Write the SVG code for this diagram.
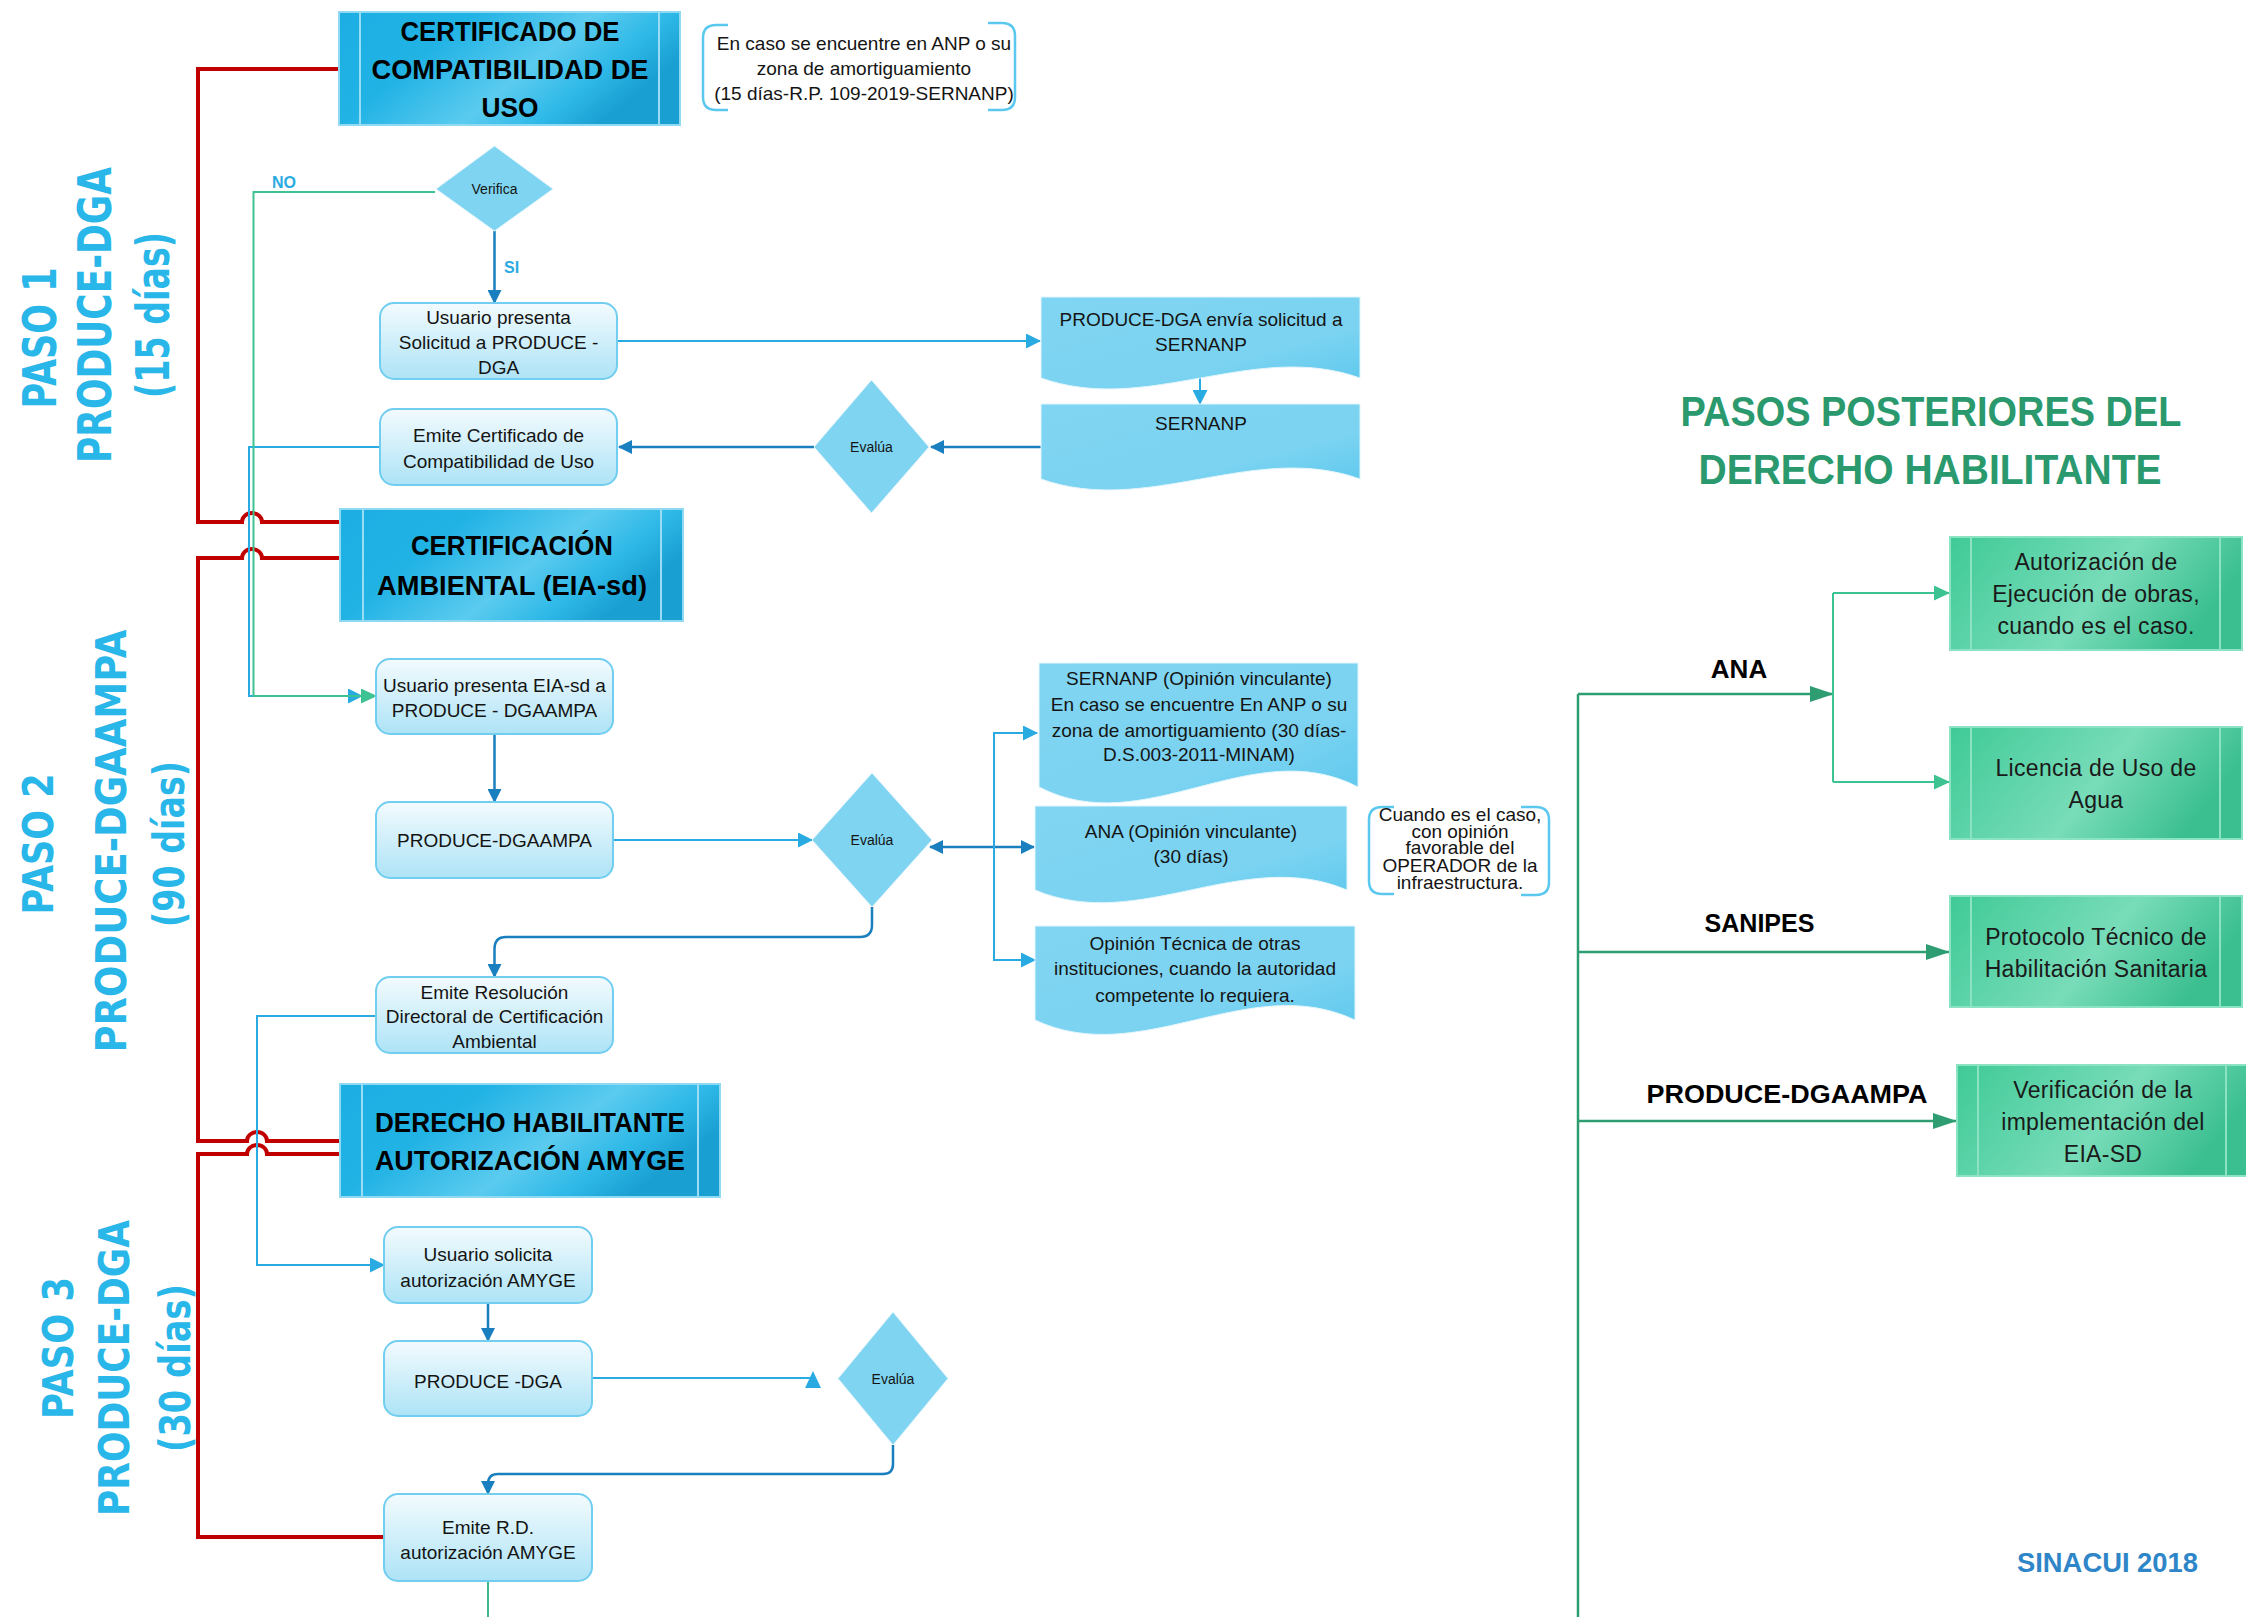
<svg xmlns="http://www.w3.org/2000/svg" width="2246" height="1617" viewBox="0 0 2246 1617">
<style>
.pbox{fill:url(#gProc);stroke:#72cef0;stroke-width:2}
.hbox{fill:url(#gHead);stroke:#8fd9f3;stroke-width:2}
.hline{stroke:#9adcf4;stroke-width:2}
.doc{fill:url(#gDoc);stroke:#e2f5fc;stroke-width:1}
.dia{fill:#7fd4f1;stroke:#e2f5fc;stroke-width:1}
.gbox{fill:url(#gGreen);stroke:#8be3c3;stroke-width:2}
.gline{stroke:#8be3c3;stroke-width:2}
.t{font-family:'Liberation Sans',Arial,sans-serif;font-size:19px;fill:#141414;text-anchor:middle}
.ts{font-family:'Liberation Sans',Arial,sans-serif;font-size:14px;fill:#141414;text-anchor:middle}
.tg{font-family:'Liberation Sans',Arial,sans-serif;font-size:23px;fill:#1a1a1a;text-anchor:middle;letter-spacing:0.3px}
.hb{font-family:'Liberation Sans',Arial,sans-serif;font-weight:bold;font-size:27px;fill:#000;text-anchor:middle}
.lbl{font-family:'Liberation Sans',Arial,sans-serif;font-weight:bold;font-size:26px;fill:#000;text-anchor:middle}
.paso{font-family:'DejaVu Sans','Liberation Sans',sans-serif;font-weight:bold;fill:#29b6e8;text-anchor:middle}
.lb{stroke:#29abe2;stroke-width:2;fill:none}
.db{stroke:#1a7fbf;stroke-width:2.5;fill:none}
.gr{stroke:#3cc391;stroke-width:2;fill:none}
.red{stroke:#c00000;stroke-width:4;fill:none;stroke-linejoin:miter}
.tree{stroke:#2e9e72;stroke-width:2.5;fill:none}
.br{stroke:#5bc8ef;stroke-width:2.5;fill:none}
</style>
<defs>
<linearGradient id="gProc" x1="0" y1="0" x2="0" y2="1">
<stop offset="0" stop-color="#f3fbfe"/><stop offset="1" stop-color="#ade3f6"/>
</linearGradient>
<linearGradient id="gHead" x1="0" y1="0" x2="1" y2="0.4">
<stop offset="0" stop-color="#1caee3"/><stop offset="0.35" stop-color="#22b3e5"/><stop offset="0.65" stop-color="#5bcbef"/><stop offset="0.85" stop-color="#2db8e7"/><stop offset="1" stop-color="#1a9fd2"/>
</linearGradient>
<linearGradient id="gDoc" x1="0" y1="0" x2="1" y2="1">
<stop offset="0" stop-color="#80d5f2"/><stop offset="0.65" stop-color="#7bd3f1"/><stop offset="1" stop-color="#5dc8ee"/>
</linearGradient>
<linearGradient id="gGreen" x1="0" y1="0" x2="1" y2="0.3">
<stop offset="0" stop-color="#3fca97"/><stop offset="0.6" stop-color="#78dcb9"/><stop offset="1" stop-color="#3bbf90"/>
</linearGradient>
<marker id="mLB" markerUnits="userSpaceOnUse" markerWidth="15" markerHeight="15" refX="14" refY="7.5" orient="auto-start-reverse"><path d="M0,0 L15,7.5 L0,15 Z" fill="#29abe2"/></marker>
<marker id="mDB" markerUnits="userSpaceOnUse" markerWidth="14" markerHeight="14" refX="13" refY="7" orient="auto-start-reverse"><path d="M0,0 L14,7 L0,14 Z" fill="#1a7fbf"/></marker>
<marker id="mG" markerUnits="userSpaceOnUse" markerWidth="16" markerHeight="15" refX="15" refY="7.5" orient="auto"><path d="M0,0 L16,7.5 L0,15 Z" fill="#3cc391"/></marker>
<marker id="mT" markerUnits="userSpaceOnUse" markerWidth="24" markerHeight="16" refX="23" refY="8" orient="auto"><path d="M0,0 L24,8 L0,16 Z" fill="#2e9e72"/></marker>
</defs>
<rect x="0" y="0" width="2246" height="1617" fill="#ffffff"/>

<g id="connectors">
<path class="red" d="M339,69 H198 V522 H242 A10 9 0 0 1 262 522 H340"/>
<path class="red" d="M340,558 H262 A10 9 0 0 0 242 558 H198 V1141 H247 A10 9 0 0 1 267 1141 H340"/>
<path class="red" d="M340,1154 H267 A10 9 0 0 0 247 1154 H198 V1537 H384"/>
<path class="lb" d="M380,447 H249 V696 H362" marker-end="url(#mLB)"/>
<path class="gr" d="M435,192 H253.5 V696 H376" marker-end="url(#mG)"/>
<path class="db" d="M494.5,231 V303" marker-end="url(#mDB)"/>
<path class="lb" d="M617,341 H1040" marker-end="url(#mLB)"/>
<path class="lb" d="M1200,377 V404" marker-end="url(#mLB)"/>
<path class="db" d="M1041,447 H931" marker-end="url(#mDB)"/>
<path class="db" d="M814,447 H619" marker-end="url(#mDB)"/>
<path class="db" d="M494.5,734 V802" marker-end="url(#mDB)"/>
<path class="lb" d="M613,840 H812" marker-end="url(#mLB)"/>
<path class="db" d="M930,847 H1034" marker-start="url(#mDB)" marker-end="url(#mDB)"/>
<path class="lb" d="M994,847 V733 H1037" marker-end="url(#mLB)"/>
<path class="lb" d="M994,847 V960 H1035" marker-end="url(#mLB)"/>
<path class="db" d="M872,907 V925 Q872,937 860,937 H506 Q494.5,937 494.5,949 V977" marker-end="url(#mDB)"/>
<path class="lb" d="M376,1016 H257 V1265 H384" marker-end="url(#mLB)"/>
<path class="db" d="M488,1303 V1341" marker-end="url(#mDB)"/>
<path class="lb" d="M592,1378 H813"/>
<path d="M813,1371 L805,1388 L821,1388 Z" fill="#29abe2"/>
<path class="db" d="M893,1445 V1464 Q893,1474 883,1474 H498 Q488,1474 488,1484 V1494" marker-end="url(#mDB)"/>
<path class="gr" d="M488,1581 V1617" style="stroke:#3cb88a"/>
<path class="tree" d="M1578,694 V1617"/>
<path class="tree" d="M1578,694 H1833" marker-end="url(#mT)"/>
<path class="gr" d="M1833,593 V782"/>
<path class="gr" d="M1833,593 H1949" marker-end="url(#mG)"/>
<path class="gr" d="M1833,782 H1949" marker-end="url(#mG)"/>
<path class="tree" d="M1578,952 H1949" marker-end="url(#mT)"/>
<path class="tree" d="M1578,1121 H1956" marker-end="url(#mT)"/>
</g>

<g id="labels-connectors">
<text x="284" y="188" font-family="'Liberation Sans',Arial,sans-serif" font-weight="bold" font-size="16" fill="#29abe2" text-anchor="middle">NO</text>
<text x="504" y="273" font-family="'Liberation Sans',Arial,sans-serif" font-weight="bold" font-size="16" fill="#29abe2">SI</text>
<text class="lbl" x="1739" y="678" font-size="27">ANA</text>
<text class="lbl" x="1759.5" y="932" textLength="110" lengthAdjust="spacingAndGlyphs">SANIPES</text>
<text class="lbl" x="1787" y="1103" textLength="281" lengthAdjust="spacingAndGlyphs">PRODUCE-DGAAMPA</text>
</g>

<g id="paso1">
<text class="paso" font-size="46" transform="translate(56,338) rotate(-90)" textLength="141" lengthAdjust="spacingAndGlyphs">PASO 1</text>
<text class="paso" font-size="46" transform="translate(111,315) rotate(-90)" textLength="296" lengthAdjust="spacingAndGlyphs">PRODUCE-DGA</text>
<text class="paso" font-size="46" transform="translate(169,315) rotate(-90)" textLength="166" lengthAdjust="spacingAndGlyphs">(15 días)</text>
</g>
<g id="paso2">
<text class="paso" font-size="42" transform="translate(53,844) rotate(-90)" textLength="141" lengthAdjust="spacingAndGlyphs">PASO 2</text>
<text class="paso" font-size="42" transform="translate(126,841) rotate(-90)" textLength="423" lengthAdjust="spacingAndGlyphs">PRODUCE-DGAAMPA</text>
<text class="paso" font-size="42" transform="translate(184,844) rotate(-90)" textLength="166" lengthAdjust="spacingAndGlyphs">(90 días)</text>
</g>
<g id="paso3">
<text class="paso" font-size="42" transform="translate(73,1348) rotate(-90)" textLength="142" lengthAdjust="spacingAndGlyphs">PASO 3</text>
<text class="paso" font-size="42" transform="translate(128.5,1368) rotate(-90)" textLength="296" lengthAdjust="spacingAndGlyphs">PRODUCE-DGA</text>
<text class="paso" font-size="42" transform="translate(190,1368) rotate(-90)" textLength="168" lengthAdjust="spacingAndGlyphs">(30 días)</text>
</g>

<g id="certificado-compatibilidad">
<rect class="hbox" x="339" y="12" width="341" height="113"/>
<line class="hline" x1="360" y1="12" x2="360" y2="125"/>
<line class="hline" x1="659" y1="12" x2="659" y2="125"/>
<text class="hb" x="510" y="41" textLength="219" lengthAdjust="spacingAndGlyphs">CERTIFICADO DE</text>
<text class="hb" x="510" y="79" textLength="277" lengthAdjust="spacingAndGlyphs">COMPATIBILIDAD DE</text>
<text class="hb" x="510" y="117" textLength="57" lengthAdjust="spacingAndGlyphs">USO</text>
</g>

<g id="nota-anp">
<path class="br" d="M728,25 H716 Q703,25 703,38 V97 Q703,110 716,110 H728"/>
<path class="br" d="M988,23 H1002 Q1015,23 1015,36 V97 Q1015,110 1002,110 H988"/>
<text class="t" x="864" y="50" font-size="18.5">En caso se encuentre en ANP o su</text>
<text class="t" x="864" y="75" font-size="18.5">zona de amortiguamiento</text>
<text class="t" x="864" y="100" font-size="18.5">(15 días-R.P. 109-2019-SERNANP)</text>
</g>

<g id="verifica">
<polygon class="dia" points="494.5,146 553,189 494.5,231 436,189"/>
<text class="ts" x="494.5" y="194">Verifica</text>
</g>

<g id="usuario-presenta-solicitud">
<rect class="pbox" x="380" y="303" width="237" height="76" rx="14"/>
<text class="t" x="498.5" y="324">Usuario presenta</text>
<text class="t" x="498.5" y="349">Solicitud a PRODUCE -</text>
<text class="t" x="498.5" y="374">DGA</text>
</g>

<g id="envia-sernanp">
<path class="doc" d="M1041,297 H1360 V378 C1253.7,340 1147.3,416 1041,378 Z"/>
<text class="t" x="1201" y="326">PRODUCE-DGA envía solicitud a</text>
<text class="t" x="1201" y="351">SERNANP</text>
</g>

<g id="sernanp">
<path class="doc" d="M1041,404 H1360 V479 C1253.7,441 1147.3,517 1041,479 Z"/>
<text class="t" x="1201" y="430">SERNANP</text>
</g>

<g id="evalua-1">
<polygon class="dia" points="871.5,380 929,447 871.5,513 814,447"/>
<text class="ts" x="871.5" y="452">Evalúa</text>
</g>

<g id="emite-certificado">
<rect class="pbox" x="380" y="409" width="237" height="76" rx="14"/>
<text class="t" x="498.5" y="442">Emite Certificado de</text>
<text class="t" x="498.5" y="468">Compatibilidad de Uso</text>
</g>

<g id="certificacion-ambiental">
<rect class="hbox" x="340" y="509" width="343" height="112"/>
<line class="hline" x1="363" y1="509" x2="363" y2="621"/>
<line class="hline" x1="661" y1="509" x2="661" y2="621"/>
<text class="hb" x="512" y="555" textLength="202" lengthAdjust="spacingAndGlyphs">CERTIFICACIÓN</text>
<text class="hb" x="512" y="595" textLength="270" lengthAdjust="spacingAndGlyphs">AMBIENTAL (EIA-sd)</text>
</g>

<g id="usuario-presenta-eia">
<rect class="pbox" x="376" y="659" width="237" height="75" rx="14"/>
<text class="t" x="494.5" y="692">Usuario presenta EIA-sd a</text>
<text class="t" x="494.5" y="717">PRODUCE - DGAAMPA</text>
</g>

<g id="produce-dgaampa">
<rect class="pbox" x="376" y="802" width="237" height="76" rx="14"/>
<text class="t" x="494.5" y="847">PRODUCE-DGAAMPA</text>
</g>

<g id="evalua-2">
<polygon class="dia" points="872,773 932,840 872,907 812,840"/>
<text class="ts" x="872" y="845">Evalúa</text>
</g>

<g id="sernanp-opinion">
<path class="doc" d="M1039,663 H1358 V787 C1251.7,732 1145.3,842 1039,787 Z"/>
<text class="t" x="1199" y="685">SERNANP (Opinión vinculante)</text>
<text class="t" x="1199" y="711">En caso se encuentre En ANP o su</text>
<text class="t" x="1199" y="737">zona de amortiguamiento (30 días-</text>
<text class="t" x="1199" y="761">D.S.003-2011-MINAM)</text>
</g>

<g id="ana-opinion">
<path class="doc" d="M1035,806 H1347 V890 C1243,846 1139,934 1035,890 Z"/>
<text class="t" x="1191" y="838">ANA (Opinión vinculante)</text>
<text class="t" x="1191" y="863">(30 días)</text>
</g>

<g id="opinion-tecnica">
<path class="doc" d="M1035,926 H1355 V1020 C1248.3,970 1141.7,1070 1035,1020 Z"/>
<text class="t" x="1195" y="950">Opinión Técnica de otras</text>
<text class="t" x="1195" y="975">instituciones, cuando la autoridad</text>
<text class="t" x="1195" y="1002">competente lo requiera.</text>
</g>

<g id="nota-operador">
<path class="br" d="M1394,807 H1382 Q1369,807 1369,820 V881 Q1369,894 1382,894 H1394"/>
<path class="br" d="M1521,807 H1536 Q1549,807 1549,820 V882 Q1549,895 1536,895 H1521"/>
<text class="t" x="1460" y="821" font-size="17">Cuando es el caso,</text>
<text class="t" x="1460" y="838" font-size="17">con opinión</text>
<text class="t" x="1460" y="854" font-size="17">favorable del</text>
<text class="t" x="1460" y="872" font-size="17">OPERADOR de la</text>
<text class="t" x="1460" y="889" font-size="17">infraestructura.</text>
</g>

<g id="emite-resolucion">
<rect class="pbox" x="376" y="977" width="237" height="76" rx="14"/>
<text class="t" x="494.5" y="999">Emite Resolución</text>
<text class="t" x="494.5" y="1023">Directoral de Certificación</text>
<text class="t" x="494.5" y="1048">Ambiental</text>
</g>

<g id="derecho-habilitante">
<rect class="hbox" x="340" y="1084" width="380" height="113"/>
<line class="hline" x1="362" y1="1084" x2="362" y2="1197"/>
<line class="hline" x1="698" y1="1084" x2="698" y2="1197"/>
<text class="hb" x="530" y="1132" textLength="310" lengthAdjust="spacingAndGlyphs">DERECHO HABILITANTE</text>
<text class="hb" x="530" y="1170" textLength="310" lengthAdjust="spacingAndGlyphs">AUTORIZACIÓN AMYGE</text>
</g>

<g id="usuario-solicita">
<rect class="pbox" x="384" y="1227" width="208" height="76" rx="14"/>
<text class="t" x="488" y="1261">Usuario solicita</text>
<text class="t" x="488" y="1287">autorización AMYGE</text>
</g>

<g id="produce-dga-3">
<rect class="pbox" x="384" y="1341" width="208" height="75" rx="14"/>
<text class="t" x="488" y="1388">PRODUCE -DGA</text>
</g>

<g id="evalua-3">
<polygon class="dia" points="893,1312 948,1378.5 893,1445 838,1378.5"/>
<text class="ts" x="893" y="1384">Evalúa</text>
</g>

<g id="emite-rd">
<rect class="pbox" x="384" y="1494" width="208" height="87" rx="14"/>
<text class="t" x="488" y="1534">Emite R.D.</text>
<text class="t" x="488" y="1559">autorización AMYGE</text>
</g>

<g id="titulo-posteriores">
<text x="1931" y="426" font-family="'Liberation Sans',Arial,sans-serif" font-weight="bold" font-size="43" fill="#2a996e" text-anchor="middle" textLength="501" lengthAdjust="spacingAndGlyphs">PASOS POSTERIORES DEL</text>
<text x="1930" y="484" font-family="'Liberation Sans',Arial,sans-serif" font-weight="bold" font-size="43" fill="#2a996e" text-anchor="middle" textLength="463" lengthAdjust="spacingAndGlyphs">DERECHO HABILITANTE</text>
</g>

<g id="autorizacion-obras">
<rect class="gbox" x="1950" y="537" width="292" height="113"/>
<line class="gline" x1="1971" y1="537" x2="1971" y2="650"/>
<line class="gline" x1="2220" y1="537" x2="2220" y2="650"/>
<text class="tg" x="2096" y="570">Autorización de</text>
<text class="tg" x="2096" y="602">Ejecución de obras,</text>
<text class="tg" x="2096" y="634">cuando es el caso.</text>
</g>

<g id="licencia-agua">
<rect class="gbox" x="1950" y="727" width="292" height="112"/>
<line class="gline" x1="1971" y1="727" x2="1971" y2="839"/>
<line class="gline" x1="2220" y1="727" x2="2220" y2="839"/>
<text class="tg" x="2096" y="776">Licencia de Uso de</text>
<text class="tg" x="2096" y="808">Agua</text>
</g>

<g id="protocolo-sanitario">
<rect class="gbox" x="1950" y="896" width="292" height="111"/>
<line class="gline" x1="1971" y1="896" x2="1971" y2="1007"/>
<line class="gline" x1="2220" y1="896" x2="2220" y2="1007"/>
<text class="tg" x="2096" y="945">Protocolo Técnico de</text>
<text class="tg" x="2096" y="977">Habilitación Sanitaria</text>
</g>

<g id="verificacion-eia">
<rect class="gbox" x="1957" y="1065" width="294" height="111"/>
<line class="gline" x1="1978" y1="1065" x2="1978" y2="1176"/>
<line class="gline" x1="2226" y1="1065" x2="2226" y2="1176"/>
<text class="tg" x="2103" y="1098">Verificación de la</text>
<text class="tg" x="2103" y="1130">implementación del</text>
<text class="tg" x="2103" y="1162">EIA-SD</text>
</g>

<g id="sinacui">
<text x="2017" y="1572" font-family="'Liberation Sans',Arial,sans-serif" font-weight="bold" font-size="27" fill="#2e86c8" textLength="181" lengthAdjust="spacingAndGlyphs">SINACUI 2018</text>
</g>
</svg>
